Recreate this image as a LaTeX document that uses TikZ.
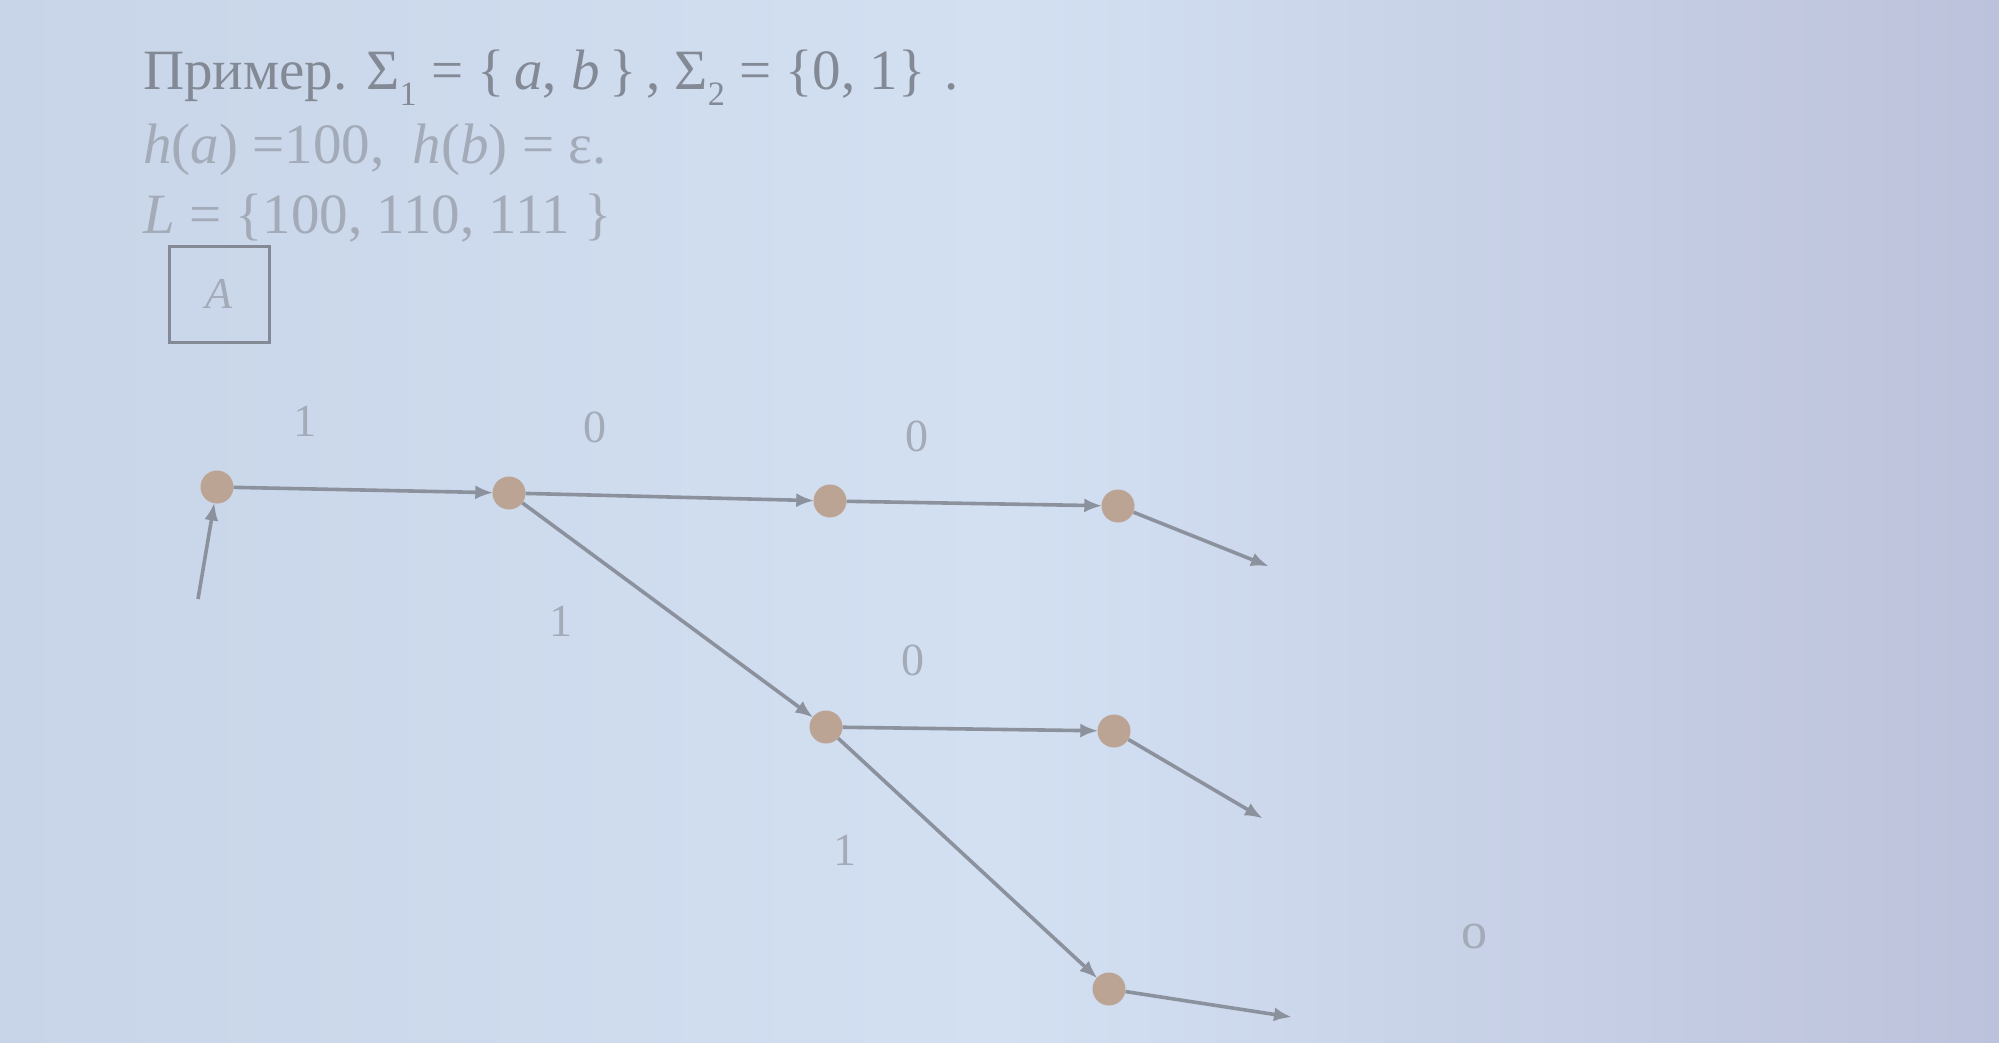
\documentclass[tikz,border=0pt]{standalone}
\usepackage{fontspec}
\setmainfont{Liberation Serif}
\usetikzlibrary{arrows.meta}
\definecolor{bgL}{HTML}{C8D5E8}
\definecolor{bgM}{HTML}{D3E0F2}
\definecolor{bgR}{HTML}{BCC2DB}
\definecolor{txtA}{HTML}{838A95}
\definecolor{txtB}{HTML}{A3ABB8}
\definecolor{edgec}{HTML}{8C929D}
\definecolor{nodec}{HTML}{BCA494}
\newcommand\lsub[1]{\raisebox{-0.28em}{\scalebox{0.6}{#1}}}
\tikzset{
  state/.style={circle, fill=nodec, draw=none, minimum size=33pt, inner sep=0pt},
  trans/.style={draw=edgec, line width=3.6pt, -{Latex[length=18pt,width=14pt]}, shorten >=-1pt},
  lbl/.style={text=txtB, font=\fontsize{46}{50}\selectfont, inner sep=0pt},
  headtxt/.style={anchor=west, inner sep=0pt, font=\fontsize{57}{60}\selectfont}
}
\begin{document}
\begin{tikzpicture}[x=1pt,y=-1pt]
\useasboundingbox (0,0) rectangle (1999,1042);
\shade[left color=bgL, right color=bgR, middle color=bgM] (0,0) rectangle (1999,1042);

% header text
\node[headtxt, text=txtA] (t1) at (143,78) {Пример. Σ\lsub{1} = \{\,\textit{a}, \textit{b}\,\}\,, Σ\lsub{2} = \{0, 1\}\,\,.};
\node[headtxt, text=txtB] (t2) at (143,150) {\textit{h}(\textit{a}) =100,\ \ \textit{h}(\textit{b}) = ε.};
\node[headtxt, text=txtB] (t3) at (143,218) {\textit{L} = \{100, 110, 111 \}};
\node[draw=txtA, line width=3pt, minimum width=100pt, minimum height=96pt, text=txtB,
      font=\fontsize{44}{50}\selectfont\itshape] (boxA) at (219,294) {A};

% states
\node[state] (q1) at (217,487) {};
\node[state] (q2) at (509,493) {};
\node[state] (q3) at (830,501) {};
\node[state] (q4) at (1118,506) {};
\node[state] (q5) at (826,727) {};
\node[state] (q6) at (1114,731) {};
\node[state] (q7) at (1109,989) {};

\coordinate (init) at (198,599);
\coordinate (o4) at (1268,566);
\coordinate (o6) at (1262,818);
\coordinate (o7) at (1291,1017);

\draw[trans] (init) -- (q1);
\draw[trans] (q1) -- (q2);
\draw[trans] (q2) -- (q3);
\draw[trans] (q3) -- (q4);
\draw[trans] (q2) -- (q5);
\draw[trans] (q5) -- (q6);
\draw[trans] (q5) -- (q7);
\draw[trans] (q4) -- (o4);
\draw[trans] (q6) -- (o6);
\draw[trans] (q7) -- (o7);

% labels
\node[lbl] (l1) at (305,421) {1};
\node[lbl] (l2) at (595,427) {0};
\node[lbl] (l3) at (917,436) {0};
\node[lbl] (l4) at (561,621) {1};
\node[lbl] (l5) at (913,660) {0};
\node[lbl] (l6) at (845,850) {1};
\node[lbl, font=\fontsize{52}{56}\selectfont] (l7) at (1474,936) {o};
\end{tikzpicture}
\end{document}
